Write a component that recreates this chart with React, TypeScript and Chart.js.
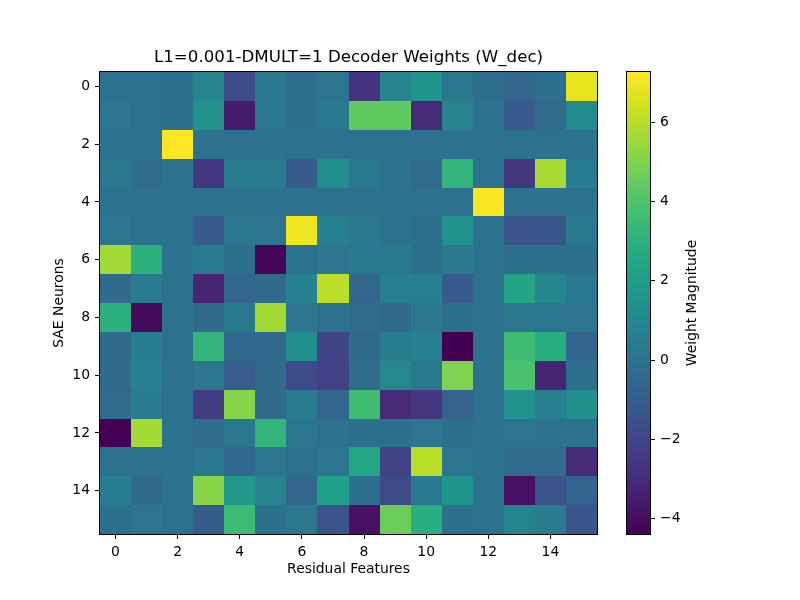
import React, { useEffect, useRef } from "react";
import { Chart, registerables } from "chart.js";
Chart.register(...registerables);

const chartTitle = "L1=0.001-DMULT=1 Decoder Weights (W_dec)";
const xTitle = "Residual Features";
const yTitle = "SAE Neurons";
const cbTitle = "Weight Magnitude";

const xTicks = [0, 2, 4, 6, 8, 10, 12, 14];
const yTicks = [0, 2, 4, 6, 8, 10, 12, 14];
const cbTicks = [-4, -2, 0, 2, 4, 6];

const row0 = [0.0, 0.0, -0.1, 0.8, -1.8, 0.2, -0.2, 0.1, -2.7, 0.8, 1.7, 0.2, -0.2, -0.6, -0.1, 6.8];
const row1 = [0.1, 0.0, -0.1, 1.5, -3.6, 0.2, -0.2, 0.3, 4.4, 4.4, -3.05, 0.8, 0.0, -1.1, -0.3, 1.1];
const row2 = [0.0, 0.0, 7.27, 0.0, 0.0, 0.0, 0.0, 0.0, 0.0, 0.0, 0.0, 0.0, 0.0, 0.0, 0.0, 0.0];
const row3 = [0.2, -0.3, 0.0, -2.55, 0.4, 0.4, -1.1, 1.3, 0.3, 0.0, -0.3, 3.2, 0.0, -2.6, 5.7, 0.5];
const row4 = [0.0, 0.0, 0.0, 0.0, 0.0, 0.0, 0.0, 0.0, 0.0, 0.0, 0.0, 0.0, 7.2, 0.0, 0.0, 0.0];
const row5 = [0.1, 0.0, 0.0, -1.1, 0.2, 0.1, 7.0, 0.7, 0.2, 0.0, -0.1, 1.5, 0.0, -1.4, -1.35, 0.3];
const row6 = [5.6, 3.0, 0.0, 0.35, -0.1, -4.3, 0.0, 0.1, 0.3, 0.3, -0.1, 0.2, 0.0, -0.2, -0.1, -0.1];
const row7 = [-0.4, 0.4, 0.0, -3.25, -0.6, -0.4, 0.7, 6.05, -0.6, 0.6, 0.6, -1.1, 0.0, 2.4, 0.9, 0.3];
const row8 = [3.0, -4.1, 0.0, -0.4, 0.3, 5.65, 0.1, 0.0, -0.3, -0.4, 0.2, -0.1, 0.0, 0.2, 0.1, 0.1];
const row9 = [-0.4, 0.5, 0.0, 3.2, -0.5, -0.5, 1.4, -2.0, -0.4, 0.5, 0.6, -4.39, 0.0, 3.65, 2.9, -0.65];
const row10 = [-0.4, 0.7, 0.0, 0.2, -1.0, -0.4, -1.8, -2.2, -0.3, 1.0, 0.3, 4.95, 0.0, 3.9, -3.2, -0.1];
const row11 = [-0.3, 0.4, 0.0, -2.4, 5.1, -0.4, 0.4, -0.6, 3.65, -3.05, -2.6, -0.8, 0.0, 1.5, 0.6, 1.4];
const row12 = [-4.35, 5.65, 0.0, -0.3, 0.2, 3.2, 0.1, 0.0, -0.1, -0.1, 0.1, -0.1, 0.0, 0.1, 0.0, 0.0];
const row13 = [0.0, 0.0, 0.0, 0.2, -0.5, 0.1, 0.0, 0.1, 2.5, -2.15, 6.0, 0.1, 0.0, -0.3, -0.3, -3.0];
const row14 = [0.5, -0.4, 0.0, 5.15, 1.8, 0.8, -0.6, 2.2, -0.2, -1.7, 0.3, 1.7, 0.0, -3.9, -1.4, -0.7];
const row15 = [-0.1, 0.1, 0.0, -1.05, 3.6, -0.1, 0.2, -1.4, -3.9, 4.6, 2.9, -0.2, 0.0, 0.85, 0.45, -1.35];

const weights = [row0, row1, row2, row3, row4, row5, row6, row7, row8, row9, row10, row11, row12, row13, row14, row15];

const allVals = weights.flat();
const vmin = Math.min(...allVals);
const vmax = Math.max(...allVals);

const viridisStops = [
  "#440154", "#48186a", "#472d7b", "#424086", "#3b528b", "#33638d", "#2c728e", "#26828e",
  "#21918c", "#1fa088", "#28ae80", "#3fbc73", "#5ec962", "#84d44b", "#addc30", "#d8e219", "#fde725",
];
const stopRGB = viridisStops.map((h) => [
  parseInt(h.slice(1, 3), 16),
  parseInt(h.slice(3, 5), 16),
  parseInt(h.slice(5, 7), 16),
]);

function viridis(t: number): string {
  const tt = Math.max(0, Math.min(1, t));
  const n = stopRGB.length - 1;
  const f = tt * n;
  const i = Math.min(n - 1, Math.floor(f));
  const u = f - i;
  const a = stopRGB[i];
  const b = stopRGB[i + 1];
  const c = a.map((v, k) => Math.round(v + (b[k] - v) * u));
  return `rgb(${c[0]},${c[1]},${c[2]})`;
}

const FONT = "'DejaVu Sans', sans-serif";
const TICK_SIZE = 13.9;
const fmt = (v: number) => String(v).replace("-", "\u2212");

const heatmapPlugin = {
  id: "heatmapCells",
  beforeDatasetsDraw(chart: any) {
    const { ctx, scales } = chart;
    const xs = scales.x;
    const ys = scales.y;
    const pts = chart.data.datasets[0].data as any[];
    ctx.save();
    for (const p of pts) {
      const x0 = Math.round(xs.getPixelForValue(p.x - 0.5));
      const x1 = Math.round(xs.getPixelForValue(p.x + 0.5));
      const y0 = Math.round(ys.getPixelForValue(p.y - 0.5));
      const y1 = Math.round(ys.getPixelForValue(p.y + 0.5));
      ctx.fillStyle = viridis((p.v - vmin) / (vmax - vmin));
      ctx.fillRect(Math.min(x0, x1), Math.min(y0, y1), Math.abs(x1 - x0), Math.abs(y1 - y0));
    }
    ctx.restore();
  },
  afterDraw(chart: any) {
    const { ctx, chartArea: a } = chart;
    ctx.save();
    ctx.strokeStyle = "#000";
    ctx.lineWidth = 1;
    ctx.strokeRect(Math.round(a.left) - 0.5, Math.round(a.top) - 0.5, Math.round(a.right - a.left) + 1, Math.round(a.bottom - a.top) + 1);
    ctx.restore();
  },
};

const colorbarPlugin = {
  id: "colorbarFill",
  beforeDatasetsDraw(chart: any) {
    const { ctx, chartArea: a, scales } = chart;
    const ys = scales.y;
    const yTop = ys.getPixelForValue(vmax);
    const yBot = ys.getPixelForValue(vmin);
    const g = ctx.createLinearGradient(0, yBot, 0, yTop);
    const N = 64;
    for (let i = 0; i <= N; i++) g.addColorStop(i / N, viridis(i / N));
    ctx.save();
    ctx.fillStyle = g;
    ctx.fillRect(a.left, yTop, a.right - a.left, yBot - yTop);
    ctx.strokeStyle = "#000";
    ctx.lineWidth = 1;
    ctx.strokeRect(Math.round(a.left) - 0.5, Math.round(a.top) - 0.5, Math.round(a.right - a.left) + 1, Math.round(a.bottom - a.top) + 1);
    ctx.translate(692, (a.top + a.bottom) / 2);
    ctx.rotate(-Math.PI / 2);
    ctx.fillStyle = "#000";
    ctx.font = `${TICK_SIZE}px ${FONT}`;
    ctx.textAlign = "center";
    ctx.textBaseline = "middle";
    ctx.fillText(cbTitle, 0, 0);
    ctx.restore();
  },
};

export default function App() {
  const mainRef = useRef<HTMLCanvasElement>(null);
  const cbRef = useRef<HTMLCanvasElement>(null);

  useEffect(() => {
    const points: any[] = [];
    weights.forEach((row, r) => row.forEach((v, c) => points.push({ x: c, y: r, v })));

    const tickGrid = {
      drawOnChartArea: false,
      drawTicks: true,
      tickLength: 5,
      color: "#000",
      tickColor: "#000",
      lineWidth: 1,
    };

    const main = new Chart(mainRef.current as HTMLCanvasElement, {
      type: "scatter",
      data: { datasets: [{ data: points, pointRadius: 0, pointHoverRadius: 0 }] as any },
      options: {
        animation: false,
        responsive: false,
        events: [],
        layout: { padding: { left: 0, right: 203, top: 0, bottom: 0 } },
        plugins: {
          legend: { display: false },
          tooltip: { enabled: false },
          title: {
            display: true,
            text: chartTitle,
            fullSize: false,
            color: "#000",
            font: { family: FONT, size: 16.67, weight: "normal" as any, lineHeight: 1.2 },
            padding: { top: 48, bottom: 4 },
          },
        },
        scales: {
          x: {
            type: "linear",
            min: -0.5,
            max: 15.5,
            border: { display: false },
            grid: tickGrid as any,
            afterBuildTicks: (s: any) => {
              s.ticks = xTicks.map((v) => ({ value: v }));
            },
            afterFit: (s: any) => {
              s.height = 66;
            },
            ticks: {
              color: "#000",
              padding: 5,
              maxRotation: 0,
              font: { family: FONT, size: TICK_SIZE },
              callback: (v: any) => fmt(v),
            },
            title: {
              display: true,
              text: xTitle,
              color: "#000",
              font: { family: FONT, size: TICK_SIZE, lineHeight: 1.2 },
              padding: { top: 0, bottom: 22.7 },
            },
          },
          y: {
            type: "linear",
            min: -0.5,
            max: 15.5,
            reverse: true,
            border: { display: false },
            grid: tickGrid as any,
            afterBuildTicks: (s: any) => {
              s.ticks = yTicks.map((v) => ({ value: v }));
            },
            afterFit: (s: any) => {
              s.width = 100;
            },
            ticks: {
              color: "#000",
              padding: 5,
              font: { family: FONT, size: TICK_SIZE },
              callback: (v: any) => fmt(v),
            },
            title: {
              display: true,
              text: yTitle,
              color: "#000",
              font: { family: FONT, size: TICK_SIZE, lineHeight: 1.2 },
              padding: { top: 50.7, bottom: 0 },
            },
          },
        },
      },
      plugins: [heatmapPlugin],
    });

    const cb = new Chart(cbRef.current as HTMLCanvasElement, {
      type: "scatter",
      data: { datasets: [{ data: [], pointRadius: 0 }] as any },
      options: {
        animation: false,
        responsive: false,
        events: [],
        layout: { padding: { left: 627, right: 90, top: 72, bottom: 66 } },
        plugins: { legend: { display: false }, tooltip: { enabled: false }, title: { display: false } },
        scales: {
          x: { type: "linear", display: false, min: 0, max: 1 },
          y: {
            type: "linear",
            position: "right",
            min: vmin,
            max: vmax,
            border: { display: false },
            grid: tickGrid as any,
            afterBuildTicks: (s: any) => {
              s.ticks = cbTicks.map((v) => ({ value: v }));
            },
            afterFit: (s: any) => {
              s.width = 60;
            },
            ticks: {
              color: "#000",
              padding: 5,
              font: { family: FONT, size: TICK_SIZE },
              callback: (v: any) => fmt(v),
            },
          },
        },
      },
      plugins: [colorbarPlugin],
    });

    return () => {
      main.destroy();
      cb.destroy();
    };
  }, []);

  return (
    <div style={{ position: "fixed", left: 0, top: 0, width: 800, height: 600, background: "#fff" }}>
      <canvas ref={mainRef} width={800} height={600} style={{ position: "absolute", left: 0, top: 0 }} />
      <canvas ref={cbRef} width={800} height={600} style={{ position: "absolute", left: 0, top: 0 }} />
    </div>
  );
}
